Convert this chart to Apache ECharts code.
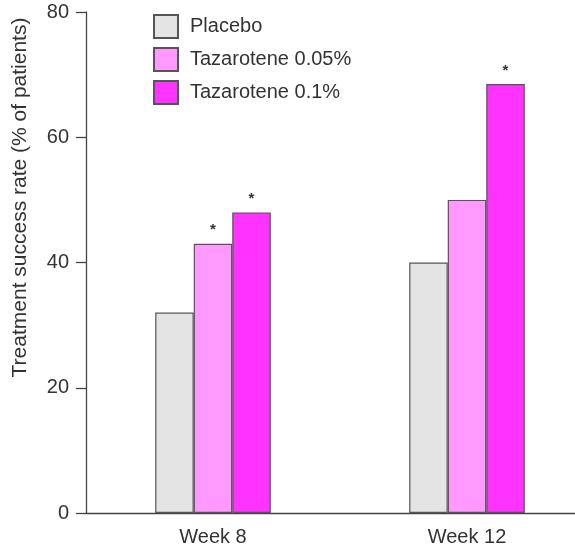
<!DOCTYPE html>
<html>
<head>
<meta charset="utf-8">
<script src="https://cdn.jsdelivr.net/npm/echarts@6/dist/echarts.min.js"></script>
<style>
  html, body { margin: 0; padding: 0; background: #fff; overflow: hidden; }
  #chart { width: 594px; height: 552px; }
</style>
</head>
<body>
<div id="chart"></div>
<script>
// Treatment success rate by visit and treatment arm
const categories = ['Week 8', 'Week 12'];
const seriesNames = ['Placebo', 'Tazarotene 0.05%', 'Tazarotene 0.1%'];
const placebo = [32, 40];
const taz005 = [43, 50];
const taz01 = [48, 68.5];
// significance markers shown above bars
const sigPlacebo = ['', ''];
const sig005 = ['*', ''];
const sig01 = ['*', '*'];
const yTicks = [0, 20, 40, 60, 80];

const colors = ['#e4e4e4', '#ff99ff', '#ff33ff'];
const valueSets = [placebo, taz005, taz01];
const sigSets = [sigPlacebo, sig005, sig01];
const font = 'Liberation Sans, Arial, sans-serif';

const chart = echarts.init(document.getElementById('chart'));
chart.setOption({
  animation: false,
  textStyle: { fontFamily: font },
  legend: {
    orient: 'vertical',
    left: 148,
    top: 9,
    itemWidth: 24,
    itemHeight: 23,
    itemGap: 8,
    icon: 'rect',
    textStyle: { fontSize: 20, color: '#333', fontFamily: font, padding: [0, 0, 0, 7] },
    data: seriesNames
  },
  grid: { left: 86, right: 0, top: 12, bottom: 39 },
  xAxis: {
    type: 'category',
    data: categories,
    axisLine: { lineStyle: { color: '#444', width: 1.3 } },
    axisTick: { show: false },
    axisLabel: { fontSize: 20, color: '#333', margin: 14, fontFamily: font }
  },
  yAxis: {
    type: 'value',
    min: yTicks[0],
    max: yTicks[yTicks.length - 1],
    interval: 20,
    name: 'Treatment success rate (% of patients)',
    nameLocation: 'middle',
    nameGap: 55,
    nameTextStyle: { fontSize: 21, color: '#333', fontFamily: font, padding: [0, 0, 0, 130] },
    axisLine: { show: true, lineStyle: { color: '#444', width: 1.3 } },
    axisTick: { show: true, inside: false, length: 10, lineStyle: { color: '#444', width: 1.3 } },
    axisLabel: { fontSize: 20, color: '#333', margin: 17, fontFamily: font },
    splitLine: { show: false }
  },
  series: seriesNames.map((name, i) => ({
    name: name,
    type: 'bar',
    barGap: '0%',
    barCategoryGap: '54.5%',
    data: valueSets[i],
    itemStyle: { color: colors[i], borderColor: '#555', borderWidth: 1.2 },
    label: {
      show: true,
      position: 'top',
      distance: 6,
      fontSize: 15,
      fontWeight: 'bold',
      color: '#333',
      formatter: p => sigSets[i][p.dataIndex]
    }
  }))
});
</script>
</body>
</html>
